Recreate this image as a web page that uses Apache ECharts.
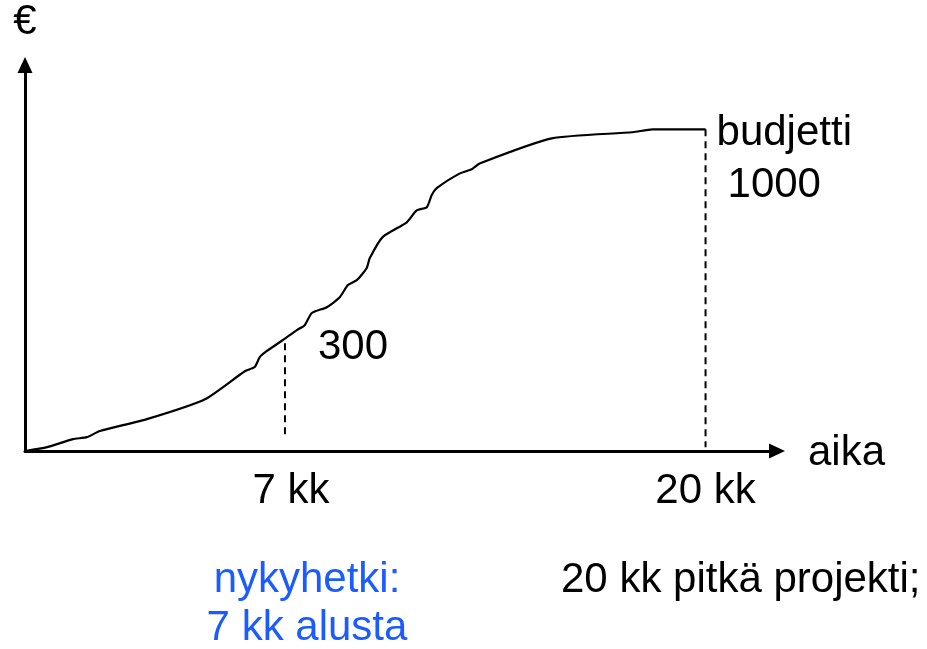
<!DOCTYPE html>
<html>
<head>
<meta charset="utf-8">
<script src="https://cdn.jsdelivr.net/npm/echarts@6/dist/echarts.min.js"></script>
<style>
  html, body { margin: 0; padding: 0; background: #fff; }
  #chart { width: 927px; height: 649px; }
</style>
</head>
<body>
<div id="chart"></div>
<script>
// kuukaudet (aika) ja kertyneet kustannukset (€), luettu kuvasta
const kuukaudet = [0, 0.65, 1.41, 1.82, 2.2, 3.58, 5.29, 6.46, 6.75, 6.9, 7.11, 7.58, 7.99, 8.22, 8.43, 8.87, 9.25, 9.49, 9.75, 10.04, 10.13, 10.51, 11.22, 11.51, 11.81, 11.95, 12.1, 12.78, 13.13, 13.36, 15.48, 17.86, 18.44, 20];
const kustannukset = [0, 12, 37, 43, 62, 99, 161, 248, 261, 292, 311, 345, 376, 391, 429, 447, 478, 516, 531, 568, 599, 665, 711, 748, 758, 795, 817, 863, 876, 894, 972, 991, 1000, 1000];

// nykyhetki ja projektin loppu
const nykyhetki = 7.64;
const nykyArvo = [335, 43];
const loppu = 20;
const loppuArvo = [1000, 12];
const budjetti = 1000;

const fontti = 'Liberation Sans, Arial, sans-serif';
const sininen = '#1b5cff';

var chart = echarts.init(document.getElementById('chart'));

var option = {
    animation: false,
    grid: { left: 25, right: 150, top: 65, bottom: 198 },
    xAxis: {
        type: 'value', min: 0, max: 22.1,
        axisLine: { lineStyle: { color: '#000', width: 3 }, symbol: ['none', 'triangle'], symbolSize: [15, 16] },
        axisTick: { show: false }, axisLabel: { show: false }, splitLine: { show: false }
    },
    yAxis: {
        type: 'value', min: 0, max: 1200,
        axisLine: { show: true, lineStyle: { color: '#000', width: 3 }, symbol: ['none', 'triangle'], symbolSize: [15, 16] },
        axisTick: { show: false }, axisLabel: { show: false }, splitLine: { show: false }
    },
    series: [
        {
            type: 'line',
            data: kuukaudet.map((k, i) => [k, kustannukset[i]]),
            symbol: 'none',
            smooth: 0.2,
            lineStyle: { color: '#000', width: 2.2 },
            z: 3
        },
        {
            type: 'line',
            data: nykyArvo.map(v => [nykyhetki, v]),
            symbol: 'none',
            lineStyle: { color: '#000', width: 2, type: [7, 5] }
        },
        {
            type: 'line',
            data: loppuArvo.map(v => [loppu, v]),
            symbol: 'none',
            lineStyle: { color: '#000', width: 2, type: [7, 5] }
        }
    ]
};
chart.setOption(option);

// tekstit datan kohtiin
function piste(x, y) {
    return chart.convertToPixel({ gridIndex: 0 }, [x, y]);
}
function teksti(t, p, align, color) {
    return {
        type: 'text',
        x: p[0], y: p[1],
        style: { text: t, font: '42px ' + fontti, fill: color || '#000', align: align || 'left', verticalAlign: 'middle' }
    };
}

var origo = piste(0, 0);
var yTop = piste(0, 1200);
var xEnd = piste(22.1, 0);
var p300 = piste(nykyhetki, 300);
var pBud = piste(loppu, budjetti);

chart.setOption({
    graphic: [
        teksti('€', [origo[0], yTop[1] - 43], 'center'),
        teksti('aika', [xEnd[0] + 31, origo[1] + 2], 'left'),
        teksti('7 kk', [piste(nykyhetki, 0)[0] + 6, origo[1] + 40], 'center'),
        teksti('20 kk', [piste(loppu, 0)[0], origo[1] + 40], 'center'),
        teksti('300', [p300[0] + 33, p300[1] - 7], 'left'),
        teksti('budjetti', [pBud[0] + 11, pBud[1] + 4], 'left'),
        teksti('1000', [pBud[0] + 22, pBud[1] + 56], 'left'),
        teksti('nykyhetki:', [307, 580], 'center', sininen),
        teksti('7 kk alusta', [307, 628], 'center', sininen),
        teksti('20 kk pitkä projekti;', [561, 580], 'left')
    ]
});
</script>
</body>
</html>
